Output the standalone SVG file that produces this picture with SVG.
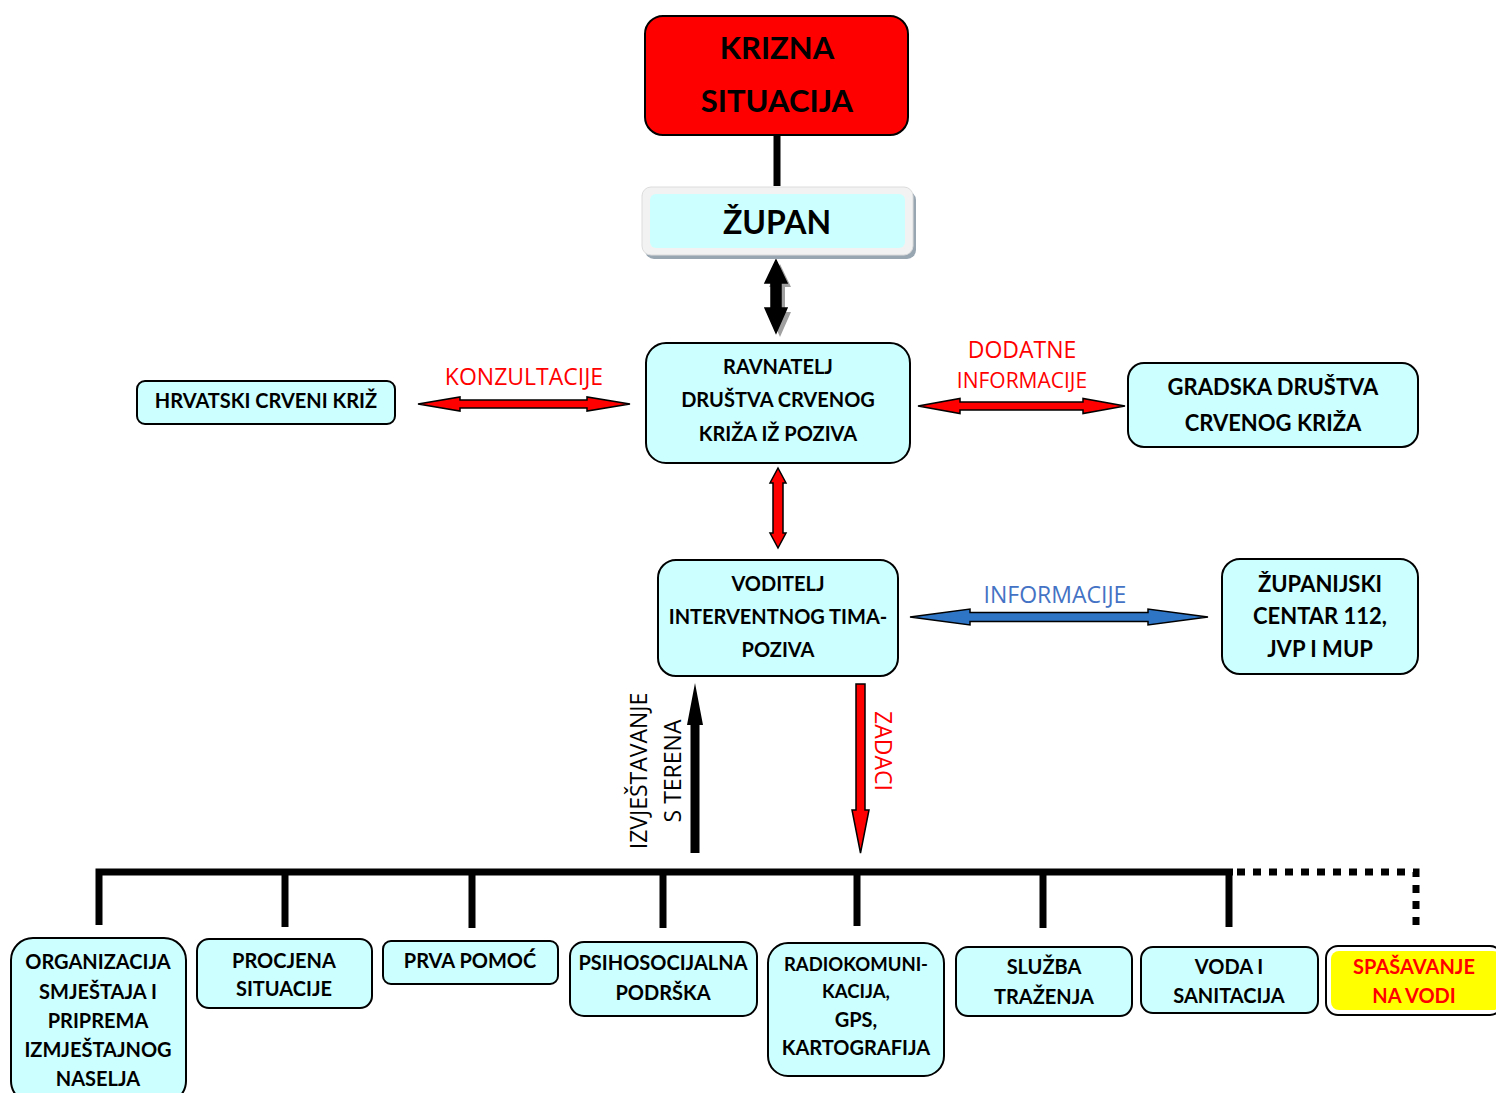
<svg xmlns="http://www.w3.org/2000/svg" width="1496" height="1093" viewBox="0 0 1496 1093">
<style>
.box{fill:#ccffff;stroke:#000;stroke-width:2}
.t{font-family:Lato,"Open Sans","Liberation Sans",sans-serif;font-weight:bold;fill:#000;text-anchor:middle;dominant-baseline:central}
.lbl{font-family:"Open Sans","Liberation Sans",sans-serif;text-anchor:middle;dominant-baseline:central}
.bus{stroke:#000;stroke-width:7;fill:none}
.arr{stroke:#000;stroke-width:1.5;stroke-linejoin:miter}
</style>
<rect width="1496" height="1093" fill="#fff"/>
<g id="connectors">
<line class="bus" x1="777" y1="135" x2="777" y2="186"/>
<polygon fill="#a0a0a0" points="780,264 791,287 785,287 785,312 791,312 780,337 769,312 775,312 775,287 769,287"/>
<polygon class="arr" fill="#000" points="776,260 787,283 781,283 781,308 787,308 776,333 765,308 771,308 771,283 765,283"/>
<polygon class="arr" fill="#ff0000" points="418,404 460,397 460,400 587,400 587,397 630,404 587,411 587,408 460,408 460,411"/>
<polygon class="arr" fill="#ff0000" points="918,406 960,398.5 960,402 1083,402 1083,398.5 1125,406 1083,413.5 1083,410 960,410 960,413.5"/>
<polygon class="arr" fill="#ff0000" points="778,468 786,483 783,483 783,533 786,533 778,548 770,533 773,533 773,483 770,483"/>
<polygon class="arr" fill="#2e75c6" points="910,617 970,609 970,612.5 1148,612.5 1148,609 1208,617 1148,625 1148,621.5 970,621.5 970,625"/>
<polygon fill="#000" points="695,683 703,725 699.5,725 699.5,853 690.5,853 690.5,725 687,725"/>
<polygon class="arr" fill="#ff0000" points="856,684 865,684 865,810 869,810 860.5,853 852,810 856,810"/>
<polyline class="bus" points="99,925 99,872 1233,872"/>
<line class="bus" x1="285" y1="872" x2="285" y2="927"/>
<line class="bus" x1="472" y1="872" x2="472" y2="928"/>
<line class="bus" x1="663" y1="872" x2="663" y2="928"/>
<line class="bus" x1="857" y1="872" x2="857" y2="926"/>
<line class="bus" x1="1043" y1="872" x2="1043" y2="928"/>
<line class="bus" x1="1229" y1="872" x2="1229" y2="927"/>
<polyline points="1237,872 1416,872 1416,926" fill="none" stroke="#000" stroke-width="7" stroke-dasharray="8,8"/>
<text class="lbl" x="524" y="376" font-size="23" fill="#ff0000">KONZULTACIJE</text>
<text class="lbl" x="1022" y="349" font-size="23" fill="#ff0000">DODATNE</text>
<text class="lbl" x="1022" y="380" font-size="21" fill="#ff0000">INFORMACIJE</text>
<text class="lbl" x="1055" y="594" font-size="23" fill="#4472c4">INFORMACIJE</text>
<text class="lbl" font-size="23" fill="#000" transform="translate(638,771) rotate(-90)">IZVJEŠTAVANJE</text>
<text class="lbl" font-size="23" fill="#000" transform="translate(672,771) rotate(-90)">S TERENA</text>
<text class="lbl" font-size="23" fill="#ff0000" transform="translate(884,751) rotate(90)">ZADACI</text>
</g>
<g id="krizna">
<rect x="645" y="16" width="263" height="119" rx="18" fill="#ff0000" stroke="#000" stroke-width="2"/>
<text class="t" x="777" y="47" font-size="31">KRIZNA</text>
<text class="t" x="777" y="100" font-size="31">SITUACIJA</text>
</g>
<g id="zupan">
<rect x="645" y="191" width="271" height="68" rx="9" fill="#98a6b2"/>
<rect x="642" y="187" width="271" height="68" rx="9" fill="#f2f2f2" stroke="#dcdcdc" stroke-width="1"/>
<rect x="650" y="194" width="255" height="54" rx="6" fill="#ccffff"/>
<text class="t" x="777" y="221" font-size="32">ŽUPAN</text>
</g>
<g id="ravnatelj">
<rect class="box" x="646" y="343" width="264" height="120" rx="20"/>
<text class="t" x="778" y="366" font-size="20">RAVNATELJ</text>
<text class="t" x="778" y="399" font-size="20">DRUŠTVA CRVENOG</text>
<text class="t" x="778" y="433" font-size="20">KRIŽA IŽ POZIVA</text>
</g>
<g id="hck">
<rect class="box" x="137" y="381" width="258" height="43" rx="8"/>
<text class="t" x="266" y="400" font-size="20">HRVATSKI CRVENI KRIŽ</text>
</g>
<g id="gradska">
<rect class="box" x="1128" y="363" width="290" height="84" rx="16"/>
<text class="t" x="1273" y="386" font-size="22">GRADSKA DRUŠTVA</text>
<text class="t" x="1273" y="422" font-size="22">CRVENOG KRIŽA</text>
</g>
<g id="voditelj">
<rect class="box" x="658" y="560" width="240" height="116" rx="18"/>
<text class="t" x="778" y="583" font-size="20">VODITELJ</text>
<text class="t" x="778" y="616" font-size="20">INTERVENTNOG TIMA-</text>
<text class="t" x="778" y="649" font-size="20">POZIVA</text>
</g>
<g id="zupanijski">
<rect class="box" x="1222" y="559" width="196" height="115" rx="18"/>
<text class="t" x="1320" y="583" font-size="22">ŽUPANIJSKI</text>
<text class="t" x="1320" y="615" font-size="22">CENTAR 112,</text>
<text class="t" x="1320" y="648" font-size="22">JVP I MUP</text>
</g>
<g id="organizacija">
<rect class="box" x="11" y="938" width="175" height="165" rx="22"/>
<text class="t" x="98" y="961" font-size="20">ORGANIZACIJA</text>
<text class="t" x="98" y="991" font-size="20">SMJEŠTAJA I</text>
<text class="t" x="98" y="1020" font-size="20">PRIPREMA</text>
<text class="t" x="98" y="1049" font-size="20">IZMJEŠTAJNOG</text>
<text class="t" x="98" y="1078" font-size="20">NASELJA</text>
</g>
<g id="procjena">
<rect class="box" x="197" y="939" width="175" height="69" rx="12"/>
<text class="t" x="284" y="960" font-size="20">PROCJENA</text>
<text class="t" x="284" y="988" font-size="20">SITUACIJE</text>
</g>
<g id="prva">
<rect class="box" x="383" y="941" width="175" height="43" rx="8"/>
<text class="t" x="470" y="960" font-size="20">PRVA POMOĆ</text>
</g>
<g id="psiho">
<rect class="box" x="570" y="942" width="187" height="74" rx="14"/>
<text class="t" x="663" y="962" font-size="20">PSIHOSOCIJALNA</text>
<text class="t" x="663" y="992" font-size="20">PODRŠKA</text>
</g>
<g id="radio">
<rect class="box" x="768" y="943" width="176" height="133" rx="20"/>
<text class="t" x="856" y="964" font-size="18.5">RADIOKOMUNI-</text>
<text class="t" x="856" y="991" font-size="18.5">KACIJA,</text>
<text class="t" x="856" y="1019" font-size="20">GPS,</text>
<text class="t" x="856" y="1047" font-size="20">KARTOGRAFIJA</text>
</g>
<g id="sluzba">
<rect class="box" x="956" y="947" width="176" height="69" rx="12"/>
<text class="t" x="1044" y="966" font-size="20">SLUŽBA</text>
<text class="t" x="1044" y="996" font-size="20">TRAŽENJA</text>
</g>
<g id="voda">
<rect class="box" x="1141" y="947" width="177" height="66" rx="12"/>
<text class="t" x="1229" y="966" font-size="20">VODA I</text>
<text class="t" x="1229" y="995" font-size="20">SANITACIJA</text>
</g>
<g id="spasavanje">
<rect x="1326" y="946" width="176" height="69" rx="12" fill="#fff" stroke="#000" stroke-width="2"/>
<rect x="1331" y="951" width="170" height="59" rx="8" fill="#ffff00"/>
<text class="t" x="1414" y="966" font-size="20" style="fill:#ff0000">SPAŠAVANJE</text>
<text class="t" x="1414" y="995" font-size="20" style="fill:#ff0000">NA VODI</text>
</g>
</svg>
